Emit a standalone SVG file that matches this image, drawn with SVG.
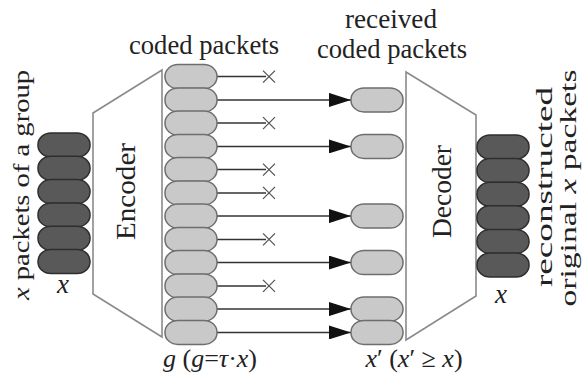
<svg xmlns="http://www.w3.org/2000/svg" width="582" height="381" viewBox="0 0 582 381">
<style>
text{font-family:'Liberation Serif','DejaVu Serif',serif;fill:#222}
.dk{fill:#595959;stroke:#2e2e2e;stroke-width:1.5}
.lt{fill:#c9c9c9;stroke:#6e6e6e;stroke-width:1.5}
.box{fill:#fff;stroke:#8a8a8a;stroke-width:1.6}
.ln{stroke:#333;stroke-width:1.5;fill:none}
.xm{stroke:#555;stroke-width:1.3;fill:none}
</style>
<defs>
<marker id="ah" viewBox="0 0 22 14" refX="22" refY="7" markerWidth="22" markerHeight="14" markerUnits="userSpaceOnUse" orient="auto">
<path d="M0,0 L22,7 L0,14 Z" fill="#111"/>
</marker>
<rect id="pk" x="0" y="-12" width="52" height="24" rx="13" ry="11.5"/>
<path id="xx" d="M-6,-6 L6,6 M-6,6 L6,-6"/>
</defs>

<g id="source-packets">
<use href="#pk" class="dk" x="38" y="145"/>
<use href="#pk" class="dk" x="38" y="168.3"/>
<use href="#pk" class="dk" x="38" y="191.6"/>
<use href="#pk" class="dk" x="38" y="214.9"/>
<use href="#pk" class="dk" x="38" y="238.2"/>
<use href="#pk" class="dk" x="38" y="261.5"/>
<text font-family="Liberation Serif, DejaVu Serif, serif" transform="translate(29,185) rotate(-90)" text-anchor="middle" font-size="24" textLength="230" lengthAdjust="spacingAndGlyphs"><tspan font-style="italic">x</tspan> packets of a group</text>
<text font-family="Liberation Serif, DejaVu Serif, serif" x="63" y="293" text-anchor="middle" font-size="27" font-style="italic">x</text>
</g>

<g id="encoder">
<polygon class="box" points="93,113 162,70 162,337 93,294"/>
<text font-family="Liberation Serif, DejaVu Serif, serif" transform="translate(135,191.5) rotate(-90)" text-anchor="middle" font-size="27" textLength="97" lengthAdjust="spacingAndGlyphs">Encoder</text>
</g>

<g id="connectors">
<line class="ln" x1="217" y1="76.6" x2="266" y2="76.6"/>
<line class="ln" x1="217" y1="123.1" x2="266" y2="123.1"/>
<line class="ln" x1="217" y1="169.6" x2="266" y2="169.6"/>
<line class="ln" x1="217" y1="192.9" x2="266" y2="192.9"/>
<line class="ln" x1="217" y1="239.4" x2="266" y2="239.4"/>
<line class="ln" x1="217" y1="285.9" x2="266" y2="285.9"/>
<use href="#xx" class="xm" x="269" y="76.6"/>
<use href="#xx" class="xm" x="269" y="123.1"/>
<use href="#xx" class="xm" x="269" y="169.6"/>
<use href="#xx" class="xm" x="269" y="192.9"/>
<use href="#xx" class="xm" x="269" y="239.4"/>
<use href="#xx" class="xm" x="269" y="285.9"/>
<line class="ln" x1="217" y1="99.9" x2="351" y2="99.9" marker-end="url(#ah)"/>
<line class="ln" x1="217" y1="146.4" x2="351" y2="146.4" marker-end="url(#ah)"/>
<line class="ln" x1="217" y1="216.1" x2="351" y2="216.1" marker-end="url(#ah)"/>
<line class="ln" x1="217" y1="262.6" x2="351" y2="262.6" marker-end="url(#ah)"/>
<line class="ln" x1="217" y1="309.1" x2="351" y2="309.1" marker-end="url(#ah)"/>
<line class="ln" x1="217" y1="332.4" x2="351" y2="332.4" marker-end="url(#ah)"/>
</g>

<g id="coded-packets">
<use href="#pk" class="lt" x="165" y="76.6"/>
<use href="#pk" class="lt" x="165" y="99.9"/>
<use href="#pk" class="lt" x="165" y="123.1"/>
<use href="#pk" class="lt" x="165" y="146.4"/>
<use href="#pk" class="lt" x="165" y="169.6"/>
<use href="#pk" class="lt" x="165" y="192.9"/>
<use href="#pk" class="lt" x="165" y="216.1"/>
<use href="#pk" class="lt" x="165" y="239.4"/>
<use href="#pk" class="lt" x="165" y="262.6"/>
<use href="#pk" class="lt" x="165" y="285.9"/>
<use href="#pk" class="lt" x="165" y="309.1"/>
<use href="#pk" class="lt" x="165" y="332.4"/>
<text font-family="Liberation Serif, DejaVu Serif, serif" x="204" y="54" text-anchor="middle" font-size="27" textLength="150" lengthAdjust="spacingAndGlyphs">coded packets</text>
<text font-family="Liberation Serif, DejaVu Serif, serif" x="210" y="367" text-anchor="middle" font-size="26"><tspan font-style="italic">g</tspan> (<tspan font-style="italic">g</tspan>=<tspan font-style="italic">τ</tspan>·<tspan font-style="italic">x</tspan>)</text>
</g>

<g id="received-packets">
<use href="#pk" class="lt" x="351" y="99.9"/>
<use href="#pk" class="lt" x="351" y="146.4"/>
<use href="#pk" class="lt" x="351" y="216.1"/>
<use href="#pk" class="lt" x="351" y="262.6"/>
<use href="#pk" class="lt" x="351" y="309.1"/>
<use href="#pk" class="lt" x="351" y="332.4"/>
<text font-family="Liberation Serif, DejaVu Serif, serif" x="391" y="28" text-anchor="middle" font-size="27" textLength="92" lengthAdjust="spacingAndGlyphs">received</text>
<text font-family="Liberation Serif, DejaVu Serif, serif" x="392" y="58" text-anchor="middle" font-size="27" textLength="150" lengthAdjust="spacingAndGlyphs">coded packets</text>
<text font-family="Liberation Serif, DejaVu Serif, serif" x="414" y="367" text-anchor="middle" font-size="26"><tspan font-style="italic">x</tspan>′ (<tspan font-style="italic">x</tspan>′ ≥ <tspan font-style="italic">x</tspan>)</text>
</g>

<g id="decoder">
<polygon class="box" points="406,72 476,115 476,296 406,340"/>
<text font-family="Liberation Serif, DejaVu Serif, serif" transform="translate(451,191.5) rotate(-90)" text-anchor="middle" font-size="27" textLength="93" lengthAdjust="spacingAndGlyphs">Decoder</text>
</g>

<g id="reconstructed-packets">
<use href="#pk" class="dk" x="477" y="147"/>
<use href="#pk" class="dk" x="477" y="170.6"/>
<use href="#pk" class="dk" x="477" y="194.2"/>
<use href="#pk" class="dk" x="477" y="217.8"/>
<use href="#pk" class="dk" x="477" y="241.4"/>
<use href="#pk" class="dk" x="477" y="265"/>
<text font-family="Liberation Serif, DejaVu Serif, serif" x="501" y="303" text-anchor="middle" font-size="27" font-style="italic">x</text>
<text font-family="Liberation Serif, DejaVu Serif, serif" transform="translate(552,187) rotate(-90)" text-anchor="middle" font-size="23" textLength="200" lengthAdjust="spacingAndGlyphs">reconstructed</text>
<text font-family="Liberation Serif, DejaVu Serif, serif" transform="translate(576,188) rotate(-90)" text-anchor="middle" font-size="23" textLength="237" lengthAdjust="spacingAndGlyphs">original <tspan font-style="italic">x</tspan> packets</text>
</g>
</svg>
